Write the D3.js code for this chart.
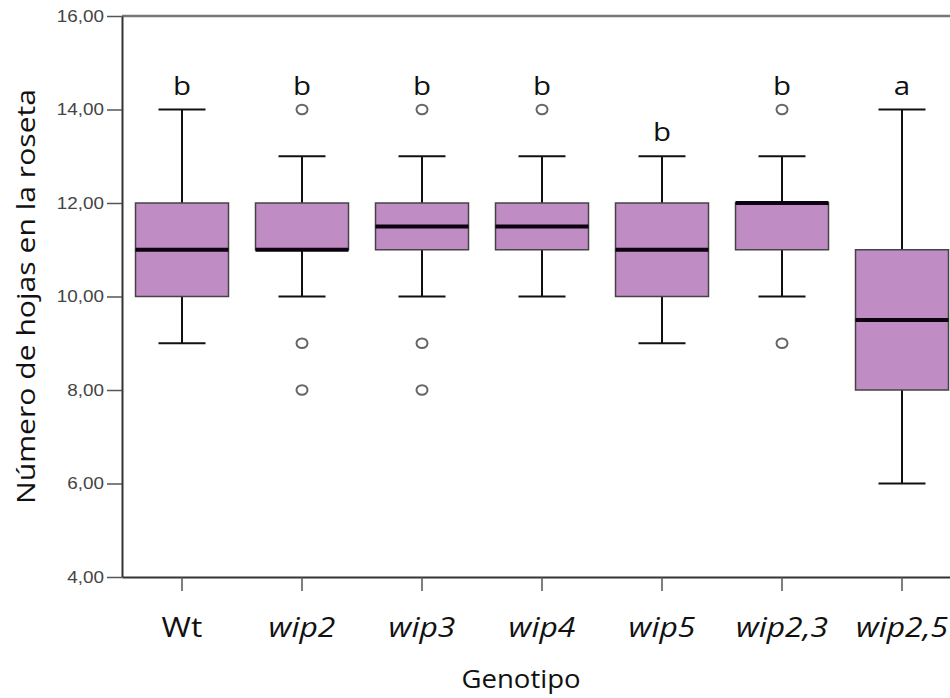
<!DOCTYPE html>
<html>
<head>
<meta charset="utf-8">
<script src="https://cdn.jsdelivr.net/npm/d3@7"></script>
<style>
  body { margin: 0; background: #fff; }
  svg { display: block; }
</style>
</head>
<body>
<svg width="950" height="698"></svg>
<script>
const genotypes = ["Wt", "wip2", "wip3", "wip4", "wip5", "wip2,3", "wip2,5"];
const whiskerLow = [9, 10, 10, 10, 9, 10, 6];
const q1 = [10, 11, 11, 11, 10, 11, 8];
const medians = [11, 11, 11.5, 11.5, 11, 12, 9.5];
const q3 = [12, 12, 12, 12, 12, 12, 11];
const whiskerHigh = [14, 13, 13, 13, 13, 13, 14];
const outliers = [[], [14, 9, 8], [14, 9, 8], [14], [], [14, 9], []];
const letters = ["b", "b", "b", "b", "b", "b", "a"];
const letterY = [14.3, 14.3, 14.3, 14.3, 13.33, 14.3, 14.3];
const yTicks = [4, 6, 8, 10, 12, 14, 16];

const margin = { top: 16, left: 122, bottom: 121 };
const height = 698;
const step = 120;
const boxWidth = 93;
const capWidth = 47;
// the source picture is stretched sideways a bit, so text is too
const stretch = 1.18;

const boxes = genotypes.map((g, i) => ({
  g, lo: whiskerLow[i], q1: q1[i], med: medians[i], q3: q3[i], hi: whiskerHigh[i],
  out: outliers[i], letter: letters[i], ly: letterY[i]
}));

const x = d3.scaleBand()
  .domain(genotypes)
  .range([margin.left, margin.left + step * genotypes.length])
  .paddingInner(0);
const y = d3.scaleLinear()
  .domain([4, 16])
  .range([height - margin.bottom, margin.top]);
const cx = g => x(g) + x.bandwidth() / 2;

const svg = d3.select("svg");

// frame top line
svg.append("line")
  .attr("x1", margin.left).attr("x2", 950)
  .attr("y1", y(16)).attr("y2", y(16))
  .attr("stroke", "#777").attr("stroke-width", 2.5);

// y axis
const yAxis = d3.axisLeft(y)
  .tickValues(yTicks)
  .tickSize(15)
  .tickSizeOuter(0)
  .tickPadding(3)
  .tickFormat(d => d3.format(".2f")(d).replace(".", ","));
const gy = svg.append("g")
  .attr("transform", `translate(${margin.left},0)`)
  .call(yAxis);
gy.select(".domain").attr("stroke", "#333").attr("stroke-width", 2);
gy.selectAll(".tick line").attr("stroke", "#555").attr("stroke-width", 1.5);
gy.selectAll(".tick text")
  .attr("font-family", "Liberation Sans, Arial, sans-serif")
  .attr("font-size", 16)
  .attr("fill", "#444")
  .attr("x", 0)
  .attr("transform", `translate(-18,0) scale(${stretch},1)`);

// x axis
const xAxis = d3.axisBottom(x).tickSize(14).tickSizeOuter(0);
const gx = svg.append("g")
  .attr("transform", `translate(0,${y(4)})`)
  .call(xAxis);
gx.select(".domain").attr("stroke", "#333").attr("stroke-width", 2);
gx.selectAll(".tick line").attr("stroke", "#555").attr("stroke-width", 1.5);
gx.selectAll(".tick text")
  .attr("font-family", "Open Sans, sans-serif")
  .attr("font-size", 27)
  .attr("fill", "#111")
  .attr("y", 60).attr("dy", 0)
  .attr("transform", `scale(${stretch},1)`)
  .attr("font-style", d => d === "Wt" ? "normal" : "italic");

// boxes
const bg = svg.append("g").selectAll("g").data(boxes).join("g");

bg.append("line")
  .attr("x1", d => cx(d.g)).attr("x2", d => cx(d.g))
  .attr("y1", d => y(d.lo)).attr("y2", d => y(d.hi))
  .attr("stroke", "#111").attr("stroke-width", 2);

bg.selectAll(".cap")
  .data(d => [{ g: d.g, v: d.lo }, { g: d.g, v: d.hi }])
  .join("line")
  .attr("class", "cap")
  .attr("x1", d => cx(d.g) - capWidth / 2).attr("x2", d => cx(d.g) + capWidth / 2)
  .attr("y1", d => y(d.v)).attr("y2", d => y(d.v))
  .attr("stroke", "#111").attr("stroke-width", 2);

bg.append("rect")
  .attr("x", d => cx(d.g) - boxWidth / 2)
  .attr("width", boxWidth)
  .attr("y", d => y(d.q3))
  .attr("height", d => y(d.q1) - y(d.q3))
  .attr("fill", "#c08cc4")
  .attr("stroke", "#444")
  .attr("stroke-width", 1.5);

bg.append("line")
  .attr("x1", d => cx(d.g) - boxWidth / 2).attr("x2", d => cx(d.g) + boxWidth / 2)
  .attr("y1", d => y(d.med)).attr("y2", d => y(d.med))
  .attr("stroke", "#0d0010").attr("stroke-width", 4);

bg.selectAll("circle")
  .data(d => d.out.map(v => ({ g: d.g, v })))
  .join("ellipse")
  .attr("cx", d => cx(d.g))
  .attr("cy", d => y(d.v))
  .attr("rx", 5.5)
  .attr("ry", 4.8)
  .attr("fill", "none")
  .attr("stroke", "#666")
  .attr("stroke-width", 2);

bg.append("text")
  .attr("transform", d => `translate(${cx(d.g)},${y(d.ly)}) scale(${stretch},1)`)
  .attr("text-anchor", "middle")
  .attr("font-family", "Open Sans, sans-serif")
  .attr("font-size", 25)
  .attr("fill", "#111")
  .text(d => d.letter);

// titles
svg.append("text")
  .attr("transform", `translate(35,${(y(4) + y(16)) / 2}) rotate(-90)`)
  .attr("text-anchor", "middle")
  .attr("font-family", "Open Sans, sans-serif")
  .attr("font-size", 26)
  .attr("fill", "#111")
  .attr("textLength", 415)
  .attr("lengthAdjust", "spacingAndGlyphs")
  .text("Número de hojas en la roseta");

svg.append("text")
  .attr("transform", `translate(521,688) scale(1.06,1)`)
  .attr("text-anchor", "middle")
  .attr("font-family", "Open Sans, sans-serif")
  .attr("font-size", 26)
  .attr("fill", "#111")
  .text("Genotipo");
</script>
</body>
</html>
